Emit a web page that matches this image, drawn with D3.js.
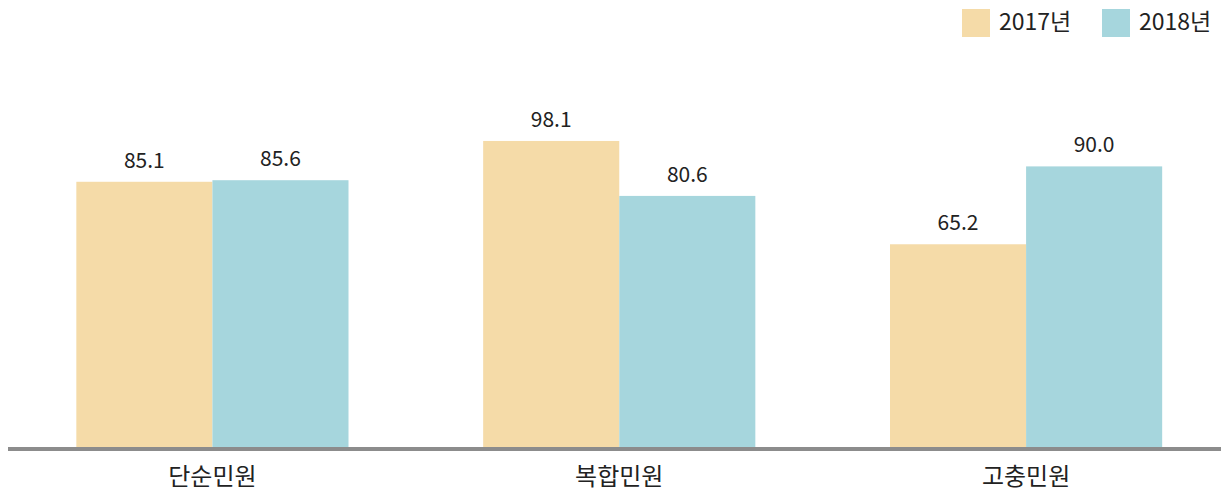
<!DOCTYPE html>
<html>
<head>
<meta charset="utf-8">
<script src="https://cdn.jsdelivr.net/npm/d3@7"></script>
<style>
  body { margin: 0; background: #fff; }
  text { font-family: "Noto Sans CJK KR", "Noto Sans", sans-serif; fill: #222; font-weight: 400; }
</style>
</head>
<body>
<script>
// data
var categories = ["단순민원", "복합민원", "고충민원"];
var seriesNames = ["2017년", "2018년"];
var values2017 = [85.1, 98.1, 65.2];
var values2018 = [85.6, 80.6, 90.0];
var colors = ["#f5dba8", "#a6d6dd"];

var w = 1225, h = 494;
var baseY = 449;

var svg = d3.select("body").append("svg")
    .attr("width", w)
    .attr("height", h);

var rows = categories.map(function(c, i) {
  return {cat: c, vals: [values2017[i], values2018[i]]};
});

// scales
var x = d3.scaleBand()
    .domain(categories)
    .range([9, 1229.5])
    .paddingInner(0.331)
    .paddingOuter(0.1655);

var xSub = d3.scaleBand()
    .domain(seriesNames)
    .range([0, x.bandwidth()]);

var y = d3.scaleLinear()
    .domain([0, 100])
    .range([baseY, 135]);

var groups = svg.selectAll("g.grp")
  .data(rows)
  .enter().append("g")
    .attr("class", "grp")
    .attr("transform", function(d) { return "translate(" + x(d.cat) + ",0)"; });

groups.selectAll("rect")
  .data(function(d) { return d.vals.map(function(v, j) { return {s: seriesNames[j], v: v, j: j}; }); })
  .enter().append("rect")
    .attr("x", function(d) { return xSub(d.s); })
    .attr("y", function(d) { return y(d.v); })
    .attr("width", xSub.bandwidth())
    .attr("height", function(d) { return baseY - y(d.v); })
    .style("fill", function(d) { return colors[d.j]; });

// value labels
groups.selectAll("text.val")
  .data(function(d) { return d.vals.map(function(v, j) { return {s: seriesNames[j], v: v}; }); })
  .enter().append("text")
    .attr("class", "val")
    .attr("x", function(d) { return xSub(d.s) + xSub.bandwidth() / 2; })
    .attr("y", function(d) { return y(d.v) - 14; })
    .attr("text-anchor", "middle")
    .style("font-size", "21px")
    .text(function(d) { return d.v.toFixed(1); });

// baseline axis
var xAxis = d3.axisBottom(x).tickSize(0).tickPadding(19);
var gX = svg.append("g")
    .attr("transform", "translate(0," + baseY + ")")
    .call(xAxis);
gX.select(".domain").remove();
gX.selectAll("text").style("font-size", "24px").attr("fill", "#222");

svg.append("line")
    .attr("x1", 8).attr("x2", 1221)
    .attr("y1", baseY).attr("y2", baseY)
    .attr("stroke", "#8c8c8c")
    .attr("stroke-width", 4);

// legend
var legend = svg.append("g").attr("transform", "translate(962,9)");
var lg = legend.selectAll("g")
  .data(seriesNames)
  .enter().append("g")
    .attr("transform", function(d, i) { return "translate(" + (i * 140) + ",0)"; });
lg.append("rect")
    .attr("width", 28).attr("height", 28)
    .style("fill", function(d, i) { return colors[i]; });
lg.append("text")
    .attr("x", 37).attr("y", 21)
    .style("font-size", "23px")
    .text(function(d) { return d; });
</script>
</body>
</html>
